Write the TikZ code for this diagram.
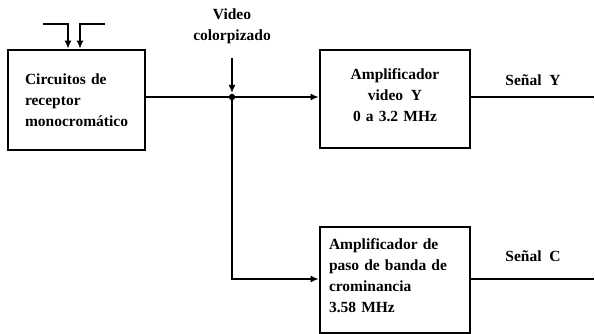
\documentclass[tikz,border=0pt]{standalone}
\usepackage{fontspec}
\setmainfont{Liberation Serif}
\usetikzlibrary{arrows.meta}
\begin{document}
\begin{tikzpicture}[x=1pt,y=1pt,
  every node/.style={font=\bfseries\fontsize{15.5}{21}\selectfont},
  blockbox/.style={draw,line width=2.6pt,inner sep=0pt},
  conn/.style={line width=2pt},
  arr/.style={conn,-{Latex[length=8pt,width=7pt]}},
  lbl/.style={inner sep=0pt}]
\useasboundingbox (0,0) rectangle (595,-334);
% blocks
\node[blockbox,minimum width=137,minimum height=100] (rx) at (76.5,-100) {};
\node[lbl,text width=115,align=left] (rxt) at ([xshift=6]rx.center) {Circuitos de\\receptor\\monocromático};
\node[blockbox,minimum width=150,minimum height=98] (yamp) at (395,-99) {};
\node[lbl,text width=140,align=center] (yampt) at ([yshift=4]yamp.center) {Amplificador\\video\enspace Y\\0 a 3.2 MHz};
\node[blockbox,minimum width=150,minimum height=106] (camp) at (395,-280) {};
\node[lbl,text width=124,align=left] (campt) at ([xshift=-4,yshift=4]camp.center) {Amplificador de\\paso de banda de\\crominancia\\3.58 MHz};
% antenna
\coordinate (a1) at (43,-24);
\coordinate (a2) at (68,-24);
\coordinate (b1) at (80,-24);
\coordinate (b2) at (105,-24);
\draw[arr] (a1) -- (a2) -- (a2 |- rx.north);
\draw[arr] (b2) -- (b1) -- (b1 |- rx.north);
% video label and junction
\coordinate (j) at (232,-97);
\coordinate (vtop) at (232,-58);
\node[lbl,align=center] (vid) at (232,-26) {Video\\colorpizado};
\draw[arr] (vtop) -- ([yshift=4]j);
\fill (j) circle (3.2);
\draw[conn] (rx.east |- j) -- (j);
\draw[arr] (j) -- (yamp.west |- j);
\coordinate (jc) at (232,-279);
\draw[arr] (j) -- (jc) -- (camp.west |- jc);
% outputs
\coordinate (yout) at (594,-97);
\coordinate (cout) at (594,-279);
\draw[conn] (yamp.east |- yout) -- (yout);
\draw[conn] (camp.east |- cout) -- (cout);
\node[lbl] (sy) at (533,-80) {Señal\enspace Y};
\node[lbl] (sc) at (533,-256) {Señal\enspace C};
\end{tikzpicture}
\end{document}
